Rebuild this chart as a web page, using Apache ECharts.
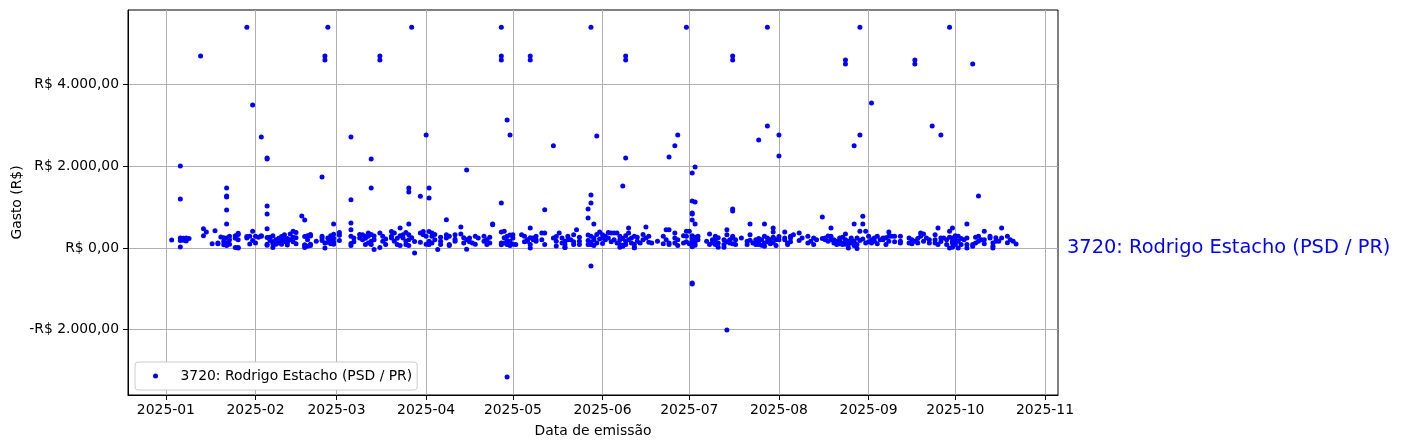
<!DOCTYPE html>
<html><head><meta charset="utf-8">
<script src="https://cdn.jsdelivr.net/npm/echarts@6/dist/echarts.min.js"></script>
<style>html,body{margin:0;padding:0;background:#fff}#c{width:1401px;height:448px}</style>
</head><body><div id="c"></div>
<script>
const seriesName = '3720: Rodrigo Estacho (PSD / PR)';
const xTitle = 'Data de emissão';
const yTitle = 'Gasto (R$)';
const monthTicks = ['2025-01-01','2025-02-01','2025-03-01','2025-04-01','2025-05-01','2025-06-01','2025-07-01','2025-08-01','2025-09-01','2025-10-01','2025-11-01'];
const yTicks = [-2000, 0, 2000, 4000];

// one entry per date; amounts[i] lists the expenses issued on dates[i]
const dates = [
'01-03','01-06','01-07','01-08','01-09','01-13','01-14','01-15','01-17','01-18','01-19','01-20','01-21','01-22','01-23','01-25','01-26','01-29','01-30','01-31',
'02-01','02-02','02-03','02-05','02-06','02-07','02-08','02-09','02-10','02-11','02-12','02-13','02-14','02-15','02-17','02-18','02-19','02-20','02-22','02-24','02-25','02-26','02-27','02-28',
'03-02','03-06','03-07','03-09','03-10','03-11','03-12','03-13','03-14','03-16','03-17','03-18','03-20','03-21','03-22','03-23','03-24','03-25','03-26','03-27','03-28','03-30','03-31',
'04-01','04-02','04-03','04-04','04-05','04-06','04-08','04-09','04-11','04-13','04-14','04-15','04-16','04-17','04-18','04-19','04-21','04-22','04-23','04-24','04-27','04-28','04-29','04-30',
'05-01','05-02','05-04','05-05','05-06','05-07','05-08','05-09','05-11','05-12','05-15','05-16','05-17','05-18','05-19','05-20','05-21','05-22','05-23','05-24','05-27','05-28','05-29','05-30','05-31',
'06-01','06-02','06-03','06-04','06-05','06-06','06-07','06-08','06-09','06-10','06-11','06-12','06-13','06-14','06-15','06-16','06-17','06-18','06-20','06-22','06-23','06-24','06-26','06-27','06-29','06-30',
'07-01','07-02','07-03','07-04','07-07','07-08','07-09','07-10','07-11','07-13','07-14','07-15','07-16','07-17','07-19','07-21','07-22','07-23','07-24','07-25','07-26','07-27','07-28','07-29','07-30','07-31',
'08-01','08-03','08-04','08-05','08-06','08-08','08-09','08-11','08-12','08-13','08-14','08-16','08-17','08-18','08-19','08-20','08-21','08-22','08-23','08-24','08-25','08-26','08-27','08-28','08-29','08-30','08-31',
'09-01','09-02','09-03','09-04','09-05','09-06','09-07','09-08','09-09','09-10','09-12','09-15','09-16','09-17','09-18','09-19','09-20','09-21','09-22','09-23','09-24','09-25','09-26','09-27','09-28','09-29','09-30',
'10-01','10-02','10-03','10-04','10-05','10-07','10-08','10-09','10-10','10-11','10-13','10-14','10-15','10-16','10-17','10-19','10-20','10-21','10-22'
];
const amounts = [
[196],[2007,1199,245,180,24],[240,190,215],[245,170],[230],[4700],[470,300],[390],[100],[420],[100,120],[270],[160,80,250],[1469,1273,1250,930,587,245,130,60],[284,203,90],[10,240,300],[330,360,200,10,0],[5400,245,280],[284,98],[3500,407,180],
[284,120],[260],[2717,284,300],[2200,2180,1028,832,472,255,64,90],[260,180,220],[300,100,10,150],[200,160,90],[240,120],[200,280,90],[320,160,210],[230,70,130],[340,200],[407,150,260],[250,100,380],[783],[685,280,80,60,10],[300,40,200],[330,290,90,60],[162],[1738,284,245,180],[4700,4600,122,0],[5400,245,140],[210,100,300],[587,335,240,150,90],
[310,185,380],[2717,1182,612,448,286,110,60],[245,150],[245,330],[326,203],[82,284,240],[367,284,120],[2178,1469,163,82,330],[-41,200,290],[4700,4600,367,10],[284,163],[82,220],[245,284,400],[163,367],[82,240],[490,61,300],[326,245],[163,82,380],[1469,1371,587,326,61,200],[5400,250],[-122,160],[1264,367,140],[326,400],
[2766,284,90],[1469,1224,163,82,400],[367,284,120],[203,330],[-41],[163,82,260],[693,326,245],[82,284,61],[163,326,210],[514,343],[122,250],[1909,203,-33],[245,150],[122],[284,90],[245],[284,163],[203,82],[122,260],[587,570],[5400,4700,4600,1101,392,122,80],[407,122,250],[3133,-3160,284,82,180],[2766,318,163,60],
[245,326,90],[82],[326],[284,150],[203,163],[4700,4600,490,82,0,250],[203,245],[163,284,203],[367,203],[937,367,82],[2504,245],[163,50,280],[367],[245,120],[163,82,10,10],[284,200],[203],[326,82,150],[448],[163,82,260],[955,734,318,82,180],[5400,1297,1101,-441,284,82,140],[587,245,203,60],[2741,122,330],[392,220],
[326,245,110],[284,203],[245,380],[367,150],[367,203],[367,122],[284,82,16,200],[1518,65,41,230],[4700,4600,2203,163,82,300],[490,367,203],[245,122],[284,82,5,5],[163,260],[122],[203,330],[514,245],[284,140],[122],[163],[284,100],[448,203],[2228,448,122,82],[2504,367,245,122],[2766,58,200],[122,300],[5400,407,284,150],
[407,100],[1836,1150,857,832,685,-881,-860,245,163,82,300,30],[1983,1126,587,203,122,65,260],[284,203],[163],[343,82],[203,130],[284,203,82],[122,16,250],[203,82,16],[-2007,326,448,150],[203,122],[4700,4600,955,906,284,245,100],[82,200],[245],[163,82],[587,326,190],[122],[82,203],[2644,163,82,230],[203,65],[587,284,122,40],[5400,2987,245,150],[203,100],[490,392,245,260,130],[203,60],
[2766,2252,203,280],[392,203,245],[122,82],[284,245,150],[326],[367,180],[245],[284,120],[163],[82,245],[203],[759,230],[203,245],[163,290],[490,284,203],[122,200],[82,163],[245,163,100],[122,82,260],[4600,4500,203,343,90],[163,82,0],[203,245,130],[2504,587,163,60],[82,-16,245],[5400,2766,407,180],[774,587,220],[407,120],
[284,150],[3550,203,122],[163,245],[284,100],[203],[245,203],[82,250],[392,284,163],[284],[284,150],[284,163,122],[245,122],[203,100],[4600,4500,163],[122,230],[367,284],[343,163],[245],[203,120],[2987],[326,203,122],[490,82],[2766,245,160],[245],[82,200],[5400,407,0,260],[245,163,490,122,20],
[203,82,300],[163,284,0],[82,230],[203],[245,587,82,0],[4504,41,82],[122,260],[1273,284,163],[203],[407,203,100],[245,284],[122,0,41],[163,250],[163],[490,245],[284,130],[203],[163],[98]
];

const DAY = 86400000;
const toTime = s => { const p = s.split('-').map(Number); return Date.UTC(p[0], p[1]-1, p[2]); };
const points = [];
dates.forEach((d, i) => amounts[i].forEach(v => points.push([toTime('2025-' + d), v])));
const monthTimes = monthTicks.map(toTime);
const base = toTime('2025-01-01');
const xMin = base - 13.1 * DAY;
const xMax = base + 308.5 * DAY;

const FONT = 'DejaVu Sans';
const fmtMoney = v => {
  const a = Math.abs(v);
  const int = Math.floor(a).toString().replace(/\B(?=(\d{3})+(?!\d))/g, '.');
  return (v < 0 ? '-' : '') + 'R$ ' + int + ',00';
};
const fmtMonth = v => { const d = new Date(v); return d.getUTCFullYear() + '-' + String(d.getUTCMonth()+1).padStart(2,'0'); };

const chart = echarts.init(document.getElementById('c'), null, {renderer: 'canvas'});
chart.setOption({
  animation: false,
  backgroundColor: '#ffffff',
  textStyle: {fontFamily: FONT},
  grid: {left: 128, right: 343, top: 10, bottom: 53, containLabel: false, outerBoundsMode: 'none',
         show: true, borderColor: '#000', borderWidth: 1, backgroundColor: 'transparent'},
  legend: {
    data: [seriesName], left: 135, top: 362, padding: [7, 5, 7, 18],
    itemWidth: 40, itemHeight: 5, icon: 'circle',
    textStyle: {fontSize: 13.9, color: '#000', fontFamily: FONT},
    borderColor: '#cccccc', borderWidth: 1, borderRadius: 3, backgroundColor: '#fff'
  },
  xAxis: {
    type: 'value', min: xMin, max: xMax,
    name: xTitle, nameLocation: 'middle', nameGap: 29, nameMoveOverlap: false,
    nameTextStyle: {fontSize: 13.9, color: '#000', fontFamily: FONT},
    axisLine: {show: true, onZero: false, lineStyle: {color: '#000', width: 1}},
    axisTick: {show: true, length: 5, customValues: monthTimes, lineStyle: {color: '#000', width: 1}},
    axisLabel: {customValues: monthTimes, formatter: fmtMonth, margin: 8, fontSize: 13.9, color: '#000', fontFamily: FONT},
    splitLine: {show: true, lineStyle: {color: '#b0b0b0', width: 1}}
  },
  yAxis: {
    type: 'value', min: -3600, max: 5825,
    name: yTitle, nameLocation: 'middle', nameGap: 104, nameRotate: 90, nameMoveOverlap: false,
    nameTextStyle: {fontSize: 13.9, color: '#000', fontFamily: FONT},
    axisLine: {show: true, onZero: false, lineStyle: {color: '#000', width: 1}},
    axisTick: {show: true, length: 5, customValues: yTicks, lineStyle: {color: '#000', width: 1}},
    axisLabel: {customValues: yTicks, formatter: fmtMoney, margin: 9, fontSize: 13.9, color: '#000', fontFamily: FONT},
    splitLine: {show: true, lineStyle: {color: '#b0b0b0', width: 1}}
  },
  series: [{
    name: seriesName, type: 'scatter', data: points,
    symbol: 'circle', symbolSize: 5,
    itemStyle: {color: '#0000ff', opacity: 1}
  }]
});
const anchor = chart.convertToPixel({gridIndex: 0}, [xMax, 0]);
chart.setOption({
  graphic: [{
    type: 'text', x: anchor[0] + 9, y: anchor[1],
    style: {text: seriesName, fill: '#0000ff', font: '19.4px "DejaVu Sans"', align: 'left', verticalAlign: 'middle'}
  }]
});
</script>
</body></html>
